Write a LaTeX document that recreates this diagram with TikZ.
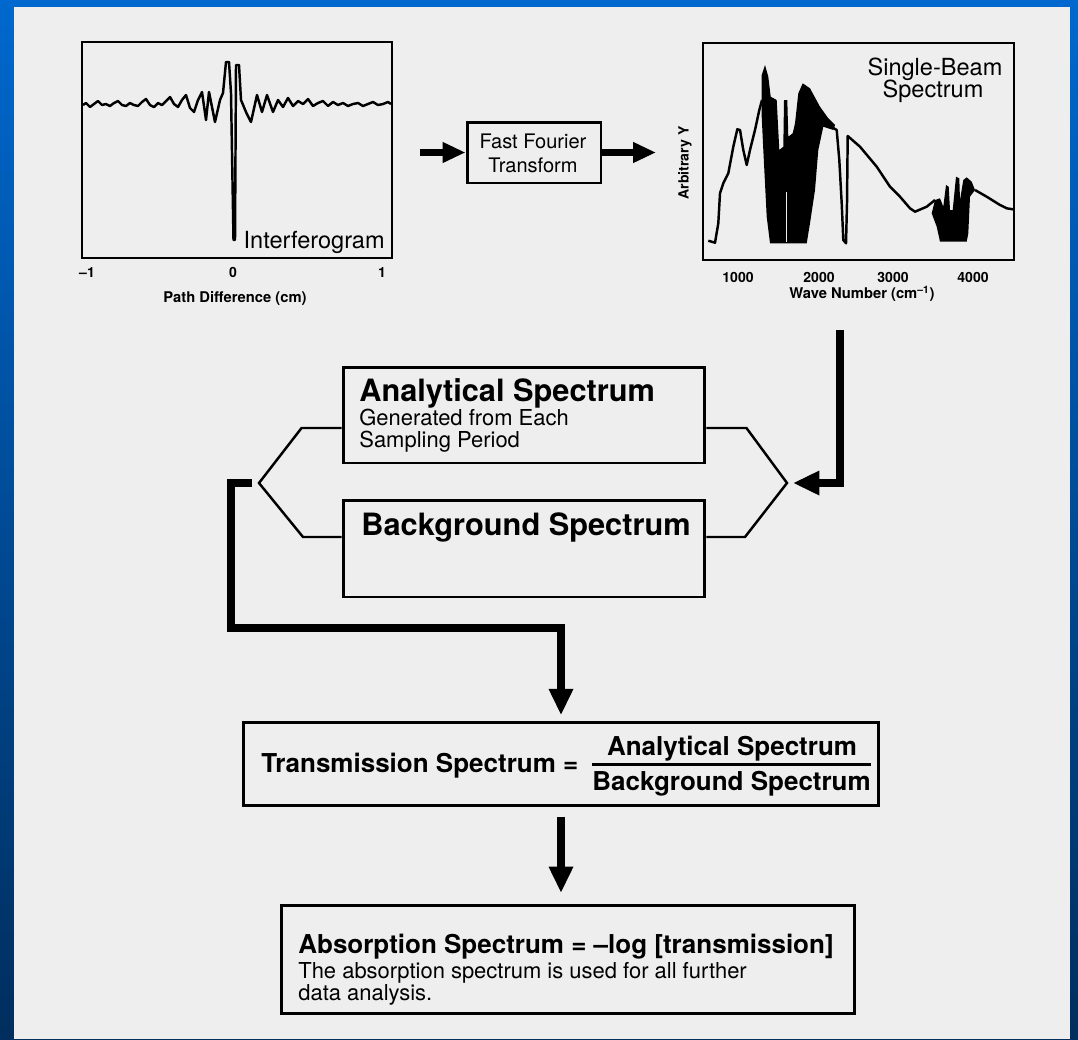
\documentclass[tikz,border=0pt]{standalone}
\usepackage{fontspec}
\setmainfont{TeX Gyre Heros}
\usetikzlibrary{arrows.meta}
\usetikzlibrary{positioning}
\definecolor{pagegray}{RGB}{238,238,238}
\definecolor{slidetop}{RGB}{0,104,206}
\definecolor{slidebot}{RGB}{0,46,94}

\newcommand\fbig{\fontsize{17.5}{20}\selectfont\bfseries}
\newcommand\fmid{\fontsize{14.8}{17}\selectfont\bfseries}
\newcommand\fsmall{\fontsize{12.5}{15}\selectfont}
\newcommand\fplot{\fontsize{13.4}{15}\selectfont}
\newcommand\ffft{\fontsize{11.4}{13}\selectfont}
\newcommand\faxis{\fontsize{8.4}{10}\selectfont\bfseries}
\newcommand\ftick{\fontsize{8}{10}\selectfont\bfseries}

\tikzset{
  flowbox/.style={draw, line width=1.7pt, inner sep=0pt},
  plotbox/.style={draw, line width=1.5pt, inner sep=0pt},
  hexline/.style={line width=1.4pt},
  fat/.style={line width=4.5pt, -{Triangle[length=15pt,width=13pt]}},
  sigline/.style={line width=1.4pt, line join=round},
  txt/.style={inner sep=0pt, anchor=base west},
  ctxt/.style={inner sep=0pt, anchor=base},
}

\begin{document}
\begin{tikzpicture}[x=0.02cm, y=-0.02cm]
      \useasboundingbox (0,0) rectangle (1078,1039);
      \shade[top color=slidetop, bottom color=slidebot] (0,0) rectangle (1078,1039);
      \fill[pagegray] (14,7) rectangle (1070,1039);

      % interferogram
      \node [plotbox, minimum width=6.2cm, minimum height=4.32cm] (ifg) at (237,150) {};
      \draw [sigline] plot coordinates {(83,105) (86,103) (90,107) (94,104) (98,101) (102,105)
        (106,104) (110,106) (114,103) (118,101) (122,105) (126,106) (130,103) (134,105)
        (138,106) (142,102) (146,99) (150,105) (154,107) (158,103) (162,105) (166,101)
        (170,97) (174,104) (178,107) (182,100) (186,95) (190,108) (194,112) (198,100)
        (202,92) (206,120) (209,92) (215,122) (220,100) (223,93) (226,62) (229,62)
        (231,93) (233.5,240) (235,240) (236,65) (239,65) (241,100) (246,112) (251,122)
        (257,95) (262,112) (267,95) (273,112) (278,100) (283,107) (288,98) (293,106)
        (298,101) (303,104) (308,99) (313,106) (318,103) (323,101) (328,106) (333,102)
        (338,105) (343,103) (348,106) (353,104) (358,103) (363,106) (368,104) (373,102)
        (378,105) (383,104) (388,102) (391,104)};
      \node [txt, anchor=base east, font=\fplot] (ifgname) at (385,248) {Interferogram};
      \node [ctxt, font=\ftick] (t1) at (87,277) {–1};
      \node [ctxt, font=\ftick] (t2) at (233,277) {0};
      \node [ctxt, font=\ftick] (t3) at (382,277) {1};
      \node [ctxt, font=\faxis] (ifgx) at (235,302) {Path Difference (cm)};

      % fourier transform
      \node [flowbox, minimum width=2.68cm, minimum height=1.22cm] (fft) at (534,152.5) {};
      \node [ctxt, font=\ffft] (fft1) at (533,148) {Fast Fourier};
      \node [ctxt, font=\ffft] (fft2) at (533,172) {Transform};
      \coordinate (in1) at (420,152.5);
      \coordinate (out1) at (656,152.5);
      \draw [fat, line width=4pt, -{Triangle[length=13pt,width=11pt]}] (in1) -- (fft.west);
      \draw [fat, line width=4pt, -{Triangle[length=13pt,width=11pt]}] (fft.east) -- (out1);

      % single-beam spectrum
      \node [plotbox, minimum width=6.22cm, minimum height=4.34cm] (sbs) at (858.5,151.5) {};
      \draw [sigline] plot coordinates {(708.3,240.7) (715,242.7) (718.3,223.3) (720,193.3)
        (723.3,183.3) (728.3,173.3) (733.3,146.7) (737.3,129.3) (740,130) (743.3,150)
        (746.7,165) (750,150) (755,130) (759.3,110) (762,100)};
      \fill (761.7,116.7) -- (761.7,75) -- (765,65) -- (768.3,76.7) -- (770.7,96.7)
        -- (776.7,100) -- (779.3,150) -- (783.3,146.7) -- (784,100) -- (787.3,100)
        -- (788.3,136.7) -- (792.7,133.3) -- (795,123.3) -- (798.3,93.3) -- (802.7,83.3)
        -- (810,88.3) -- (820,106.7) -- (828.3,118.3) -- (835,125) -- (833.3,130)
        -- (823.3,126.7) -- (818.3,150) -- (815,190) -- (810,223.3) -- (806.7,243.3)
        -- (770,243.3) -- (766.7,216.7) -- (765,183.3) -- (763.3,150) -- cycle;
      \draw [pagegray, line width=0.5pt] (786,192) -- (786,242);
      \draw [sigline] plot coordinates {(833.3,128) (836.7,130) (839.3,160) (841.7,203.3)
        (843.3,240) (846,243.3) (847,203.3) (847.7,136) (860,146.7) (876.7,166.7)
        (890,186.7) (900,196.7) (910,208.3) (915,211.7) (926.7,206.7) (935,200)};
      \fill (935,200) -- (940,198.3) -- (943.3,206.7) -- (946,185) -- (948.7,186.7)
        -- (950,210) -- (952.7,210) -- (956,176.7) -- (959.3,178.3) -- (960,200)
        -- (963.3,180) -- (966.7,177.3) -- (971.7,181.7) -- (975,190) -- (970,196.7)
        -- (968.3,233.3) -- (966.7,241.7) -- (940,241.7) -- (936.7,226.7)
        -- (931.7,213.3) -- cycle;
      \draw [sigline] plot coordinates {(975,190) (986.7,196.7) (1000,205) (1006.7,208.3)
        (1013,209.3)};
      \node [ctxt, font=\fplot] (sbs1) at (935,75) {Single-Beam};
      \node [ctxt, font=\fplot] (sbs2) at (933,97) {Spectrum};
      \node [inner sep=0pt, rotate=90, font=\ftick] (sbsy) at (685,163) {Arbitrary Y};
      \node [ctxt, font=\ftick] (w1) at (738,282) {1000};
      \node [ctxt, font=\ftick] (w2) at (819,282) {2000};
      \node [ctxt, font=\ftick] (w3) at (893,282) {3000};
      \node [ctxt, font=\ftick] (w4) at (973,282) {4000};
      \node [ctxt, font=\faxis] (sbsx) at (862,298) {Wave Number (cm\textsuperscript{–1})};

      % analytical and background spectra
      \node [flowbox, minimum width=7.24cm, minimum height=1.92cm] (ana) at (524,415) {};
      \node [txt, font=\fbig] (ana1) at (359,401) {Analytical Spectrum};
      \node [txt, font=\fsmall] (ana2) at (359,425) {Generated from Each};
      \node [txt, font=\fsmall] (ana3) at (359,447) {Sampling Period};
      \node [flowbox, minimum width=7.24cm, minimum height=1.94cm] (bg) at (524,548.5) {};
      \node [txt, font=\fbig] (bg1) at (361,535) {Background Spectrum};

      \coordinate (hexL) at (259,483);
      \coordinate (hexR) at (787,483);
      \draw [hexline] ([yshift=-0.26cm]ana.west) -- ++(-40,0) -- (hexL) -- ++(44,54)
        -- ([yshift=0.23cm]bg.west);
      \draw [hexline] ([yshift=-0.26cm]ana.east) -- ++(40,0) -- (hexR) -- ++(-42,54)
        -- ([yshift=0.23cm]bg.east);

      \coordinate (feed) at (840,330);
      \coordinate (feedend) at (793,483);
      \draw [fat] (feed) |- (feedend);

      % transmission
      \node [flowbox, minimum width=12.72cm, minimum height=1.66cm] (trans) at (561,763.5) {};
      \node [txt, font=\fmid] (tr1) at (261,772) {Transmission Spectrum =};
      \node [ctxt, font=\fmid] (num) at (732,755) {Analytical Spectrum};
      \node [ctxt, font=\fmid] (den) at (731.5,790) {Background Spectrum};
      \draw [line width=1.3pt] ([yshift=0.12cm]den.north west) -- ([yshift=0.12cm]den.north east);

      \coordinate (brk) at (252,483);
      \draw [fat, shorten >=3pt] (brk) -- ++(-21,0) -- ++(0,145) -| (trans.north);

      % absorption
      \node [flowbox, minimum width=11.48cm, minimum height=2.16cm] (absb) at (568,959) {};
      \node [txt, font=\fmid] (ab1) at (298,953) {Absorption Spectrum = –log [transmission]};
      \node [txt, font=\fsmall] (ab2) at (298,978) {The absorption spectrum is used for all further};
      \node [txt, font=\fsmall] (ab3) at (298,1000) {data analysis.};

      \draw [fat, shorten >=6pt] ([yshift=-0.2cm]trans.south) -- (trans.south |- absb.north);
\end{tikzpicture}
\end{document}
